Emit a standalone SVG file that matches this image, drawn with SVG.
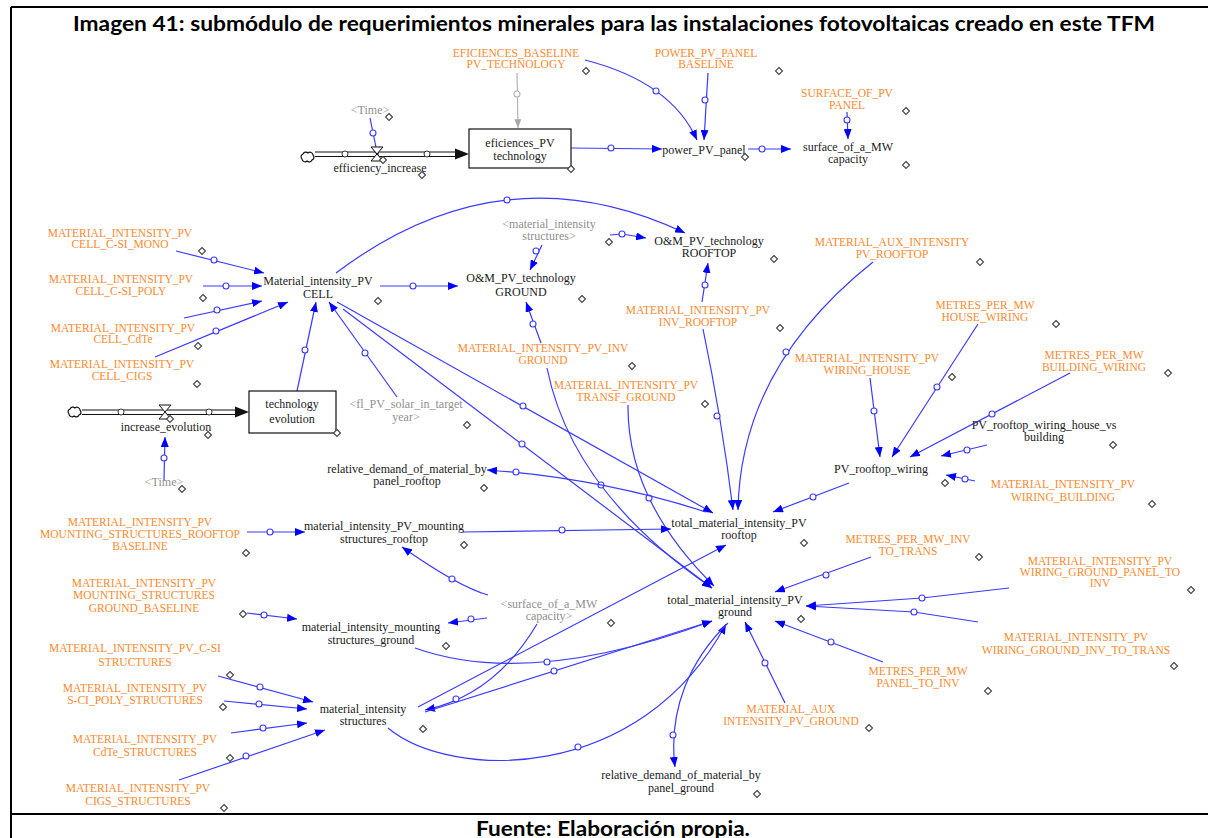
<svg xmlns="http://www.w3.org/2000/svg" xmlns:xlink="http://www.w3.org/1999/xlink" width="1208" height="838" viewBox="0 0 1208 838">
<style>
  .b { font-family: "Liberation Serif", serif; font-size: 12px; fill: #1a1a1a; text-anchor: middle; }
  .o { font-family: "Liberation Serif", serif; font-size: 11.5px; fill: #fb8a2e; text-anchor: middle; }
  .g { font-family: "Liberation Serif", serif; font-size: 12px; fill: #909090; text-anchor: middle; }
  .cap { font-family: Lato, "Liberation Sans", sans-serif; font-weight: bold; font-size: 20px; fill: #000; text-anchor: middle; }
  .lk { fill: none; stroke: #3a3aff; stroke-width: 1.2; }
  .lkg { fill: none; stroke: #b4b4b4; stroke-width: 1.2; }
  .h { fill: #fff; stroke: #3a3aff; stroke-width: 1.1; }
  .hg { fill: #fff; stroke: #b4b4b4; stroke-width: 1.1; }
  .hf { fill: #fff; stroke: #333; stroke-width: 1; }
  .d { fill: #fff; stroke: #444; stroke-width: 1.1; }
  .box { fill: #fff; stroke: #111; stroke-width: 1.2; }
  .pipe { fill: none; stroke: #111; stroke-width: 1.2; }
  .frame { stroke: #000; stroke-width: 2; fill: none; }
</style>
<defs>
  <marker id="ab" viewBox="0 0 10 8" refX="10" refY="4" markerWidth="10" markerHeight="8" markerUnits="userSpaceOnUse" orient="auto">
    <path d="M0,0 L10,4 L0,8 z" fill="#0000ff"/>
  </marker>
  <marker id="ag" viewBox="0 0 10 8" refX="10" refY="4" markerWidth="9" markerHeight="7" markerUnits="userSpaceOnUse" orient="auto">
    <path d="M0,0 L10,4 L0,8 z" fill="#a8a8a8"/>
  </marker>
  <path id="dm" class="d" d="M0,-3.5 L3.5,0 L0,3.5 L-3.5,0 Z"/>
  <path id="cloud" d="M-6,2 a3,3 0 0 1 1,-5 a3,3 0 0 1 5,-1 a3,3 0 0 1 5,2 a3,3 0 0 1 -1,5 a3,3 0 0 1 -5,1 a3,3 0 0 1 -5,-2 z" fill="#fff" stroke="#111" stroke-width="1.2"/>
</defs>

<rect width="1208" height="838" fill="#fff"/>

<!-- table frame -->
<g id="frame">
  <line class="frame" x1="11" y1="7" x2="1208" y2="7"/>
  <line class="frame" x1="11" y1="7" x2="11" y2="838"/>
  <line class="frame" x1="11" y1="814" x2="1208" y2="814"/>
  <text class="cap" x="614" y="31" textLength="1082" lengthAdjust="spacingAndGlyphs">Imagen  41: submódulo de requerimientos minerales para las instalaciones fotovoltaicas creado en este TFM</text>
  <text class="cap" x="613" y="836" textLength="274" lengthAdjust="spacingAndGlyphs">Fuente: Elaboración propia.</text>
</g>

<!-- connectors -->
<g id="links">
  <path class="lk" d="M370,118 L378,157" marker-end="url(#ab)"/><circle class="h" cx="373" cy="133" r="3"/>
  <path class="lkg" d="M517,73 L518,128" marker-end="url(#ag)"/><circle class="hg" cx="517" cy="94" r="3"/>
  <path class="lk" d="M585,60 Q671,82 697,140" marker-end="url(#ab)"/><circle class="h" cx="656" cy="91" r="3"/>
  <path class="lk" d="M708,73 L704,140" marker-end="url(#ab)"/><circle class="h" cx="705" cy="100" r="3"/>
  <path class="lk" d="M571,148 L662,149" marker-end="url(#ab)"/><circle class="h" cx="611" cy="148" r="3"/>
  <path class="lk" d="M748,149 L791,149" marker-end="url(#ab)"/><circle class="h" cx="762" cy="149" r="3"/>
  <path class="lk" d="M847,112 L848,139" marker-end="url(#ab)"/><circle class="h" cx="847" cy="120" r="3"/>

  <path class="lk" d="M176,251 L264,273" marker-end="url(#ab)"/><circle class="h" cx="214" cy="260" r="3"/>
  <path class="lk" d="M203,286 L262,286" marker-end="url(#ab)"/><circle class="h" cx="226" cy="286" r="3"/>
  <path class="lk" d="M184,318 L262,301" marker-end="url(#ab)"/><circle class="h" cx="217" cy="310" r="3"/>
  <path class="lk" d="M155,357 L288,302" marker-end="url(#ab)"/><circle class="h" cx="216" cy="331" r="3"/>
  <path class="lk" d="M297,391 L316,302" marker-end="url(#ab)"/><circle class="h" cx="305" cy="350" r="3"/>
  <path class="lk" d="M397,397 L329,302" marker-end="url(#ab)"/><circle class="h" cx="365" cy="353" r="3"/>
  <path class="lk" d="M380,286 L458,286" marker-end="url(#ab)"/><circle class="h" cx="413" cy="286" r="3"/>
  <path class="lk" d="M336,273 Q503,147 685,233" marker-end="url(#ab)"/><circle class="h" cx="507" cy="200" r="3"/>
  <path class="lk" d="M542,245 L530,270" marker-end="url(#ab)"/><circle class="h" cx="536" cy="251" r="3"/>
  <path class="lk" d="M610,235 L622,234 L646,238" marker-end="url(#ab)"/><circle class="h" cx="622" cy="234" r="3"/>
  <path class="lk" d="M541,343 L526,302" marker-end="url(#ab)"/><circle class="h" cx="533" cy="324" r="3"/>
  <path class="lk" d="M547,368 Q572,492 712,588" marker-end="url(#ab)"/><circle class="h" cx="601" cy="485" r="3"/>
  <path class="lk" d="M628,405 Q627,500 714,586" marker-end="url(#ab)"/><circle class="h" cx="649" cy="498" r="3"/>
  <path class="lk" d="M337,302 L713,513" marker-end="url(#ab)"/><circle class="h" cx="523" cy="406" r="3"/>
  <path class="lk" d="M343,309 L712,588" marker-end="url(#ab)"/><circle class="h" cx="522" cy="444" r="3"/>
  <path class="lk" d="M706,512 Q600,478 487,470" marker-end="url(#ab)"/><circle class="h" cx="516" cy="472" r="3"/>
  <path class="lk" d="M702,302 L708,263" marker-end="url(#ab)"/><circle class="h" cx="705" cy="285" r="3"/>
  <path class="lk" d="M703,329 Q722,420 733,510" marker-end="url(#ab)"/><circle class="h" cx="717" cy="416" r="3"/>
  <path class="lk" d="M873,262 C800,320 740,400 738,510" marker-end="url(#ab)"/><circle class="h" cx="786" cy="352" r="3"/>
  <path class="lk" d="M870,378 L880,457" marker-end="url(#ab)"/><circle class="h" cx="874" cy="411" r="3"/>
  <path class="lk" d="M978,324 L892,457" marker-end="url(#ab)"/><circle class="h" cx="937" cy="387" r="3"/>
  <path class="lk" d="M1070,373 L910,457" marker-end="url(#ab)"/><circle class="h" cx="992" cy="414" r="3"/>
  <path class="lk" d="M987,445 L941,456" marker-end="url(#ab)"/><circle class="h" cx="967" cy="450" r="3"/>
  <path class="lk" d="M975,481 L946,475" marker-end="url(#ab)"/><circle class="h" cx="965" cy="479" r="3"/>
  <path class="lk" d="M849,483 L773,512" marker-end="url(#ab)"/><circle class="h" cx="813" cy="497" r="3"/>

  <path class="lk" d="M247,532 L305,532" marker-end="url(#ab)"/><circle class="h" cx="270" cy="532" r="3"/>
  <path class="lk" d="M463,532 L671,529" marker-end="url(#ab)"/><circle class="h" cx="562" cy="530" r="3"/>
  <path class="lk" d="M488,595 Q459,587 402,547" marker-end="url(#ab)"/><circle class="h" cx="452" cy="579" r="3"/>
  <path class="lk" d="M487,618 L448,623" marker-end="url(#ab)"/><circle class="h" cx="471" cy="619" r="3"/>
  <path class="lk" d="M247,613 L297,619" marker-end="url(#ab)"/><circle class="h" cx="264" cy="615" r="3"/>
  <path class="lk" d="M415,648 Q530,689 712,621" marker-end="url(#ab)"/><circle class="h" cx="547" cy="662" r="3"/>
  <path class="lk" d="M537,624 Q495,695 425,710" marker-end="url(#ab)"/><circle class="h" cx="456" cy="699" r="3"/>
  <path class="lk" d="M418,707 L726,545" marker-end="url(#ab)"/>
  <path class="lk" d="M425,712 L712,621" marker-end="url(#ab)"/><circle class="h" cx="554" cy="671" r="3"/>
  <path class="lk" d="M388,728 C450,780 640,785 726,624" marker-end="url(#ab)"/><circle class="h" cx="578" cy="747" r="3"/>
  <path class="lk" d="M728,623 C690,660 668,710 675,767" marker-end="url(#ab)"/><circle class="h" cx="673" cy="735" r="3"/>
  <path class="lk" d="M871,557 L775,592" marker-end="url(#ab)"/><circle class="h" cx="826" cy="575" r="3"/>
  <path class="lk" d="M1009,588 L922,598 L806,606" marker-end="url(#ab)"/><circle class="h" cx="922" cy="598" r="3"/>
  <path class="lk" d="M978,622 L914,612 L806,606" marker-end="url(#ab)"/><circle class="h" cx="914" cy="612" r="3"/>
  <path class="lk" d="M883,662 L775,621" marker-end="url(#ab)"/><circle class="h" cx="831" cy="642" r="3"/>
  <path class="lk" d="M785,703 L745,622" marker-end="url(#ab)"/><circle class="h" cx="765" cy="663" r="3"/>
  <path class="lk" d="M164,480 L165,437" marker-end="url(#ab)"/><circle class="h" cx="164" cy="458" r="3"/>
</g>

<!-- stock: eficiences_PV technology, with inflow -->
<g id="flow-efficiency">
  <use href="#cloud" x="308" y="157"/>
  <line class="pipe" x1="315" y1="152" x2="458" y2="152"/>
  <line class="pipe" x1="315" y1="156.5" x2="458" y2="156.5"/>
  <path d="M455,148.5 L469,154 L455,159.5 z" fill="#111"/>
  <circle class="hf" cx="345" cy="154" r="3"/>
  <circle class="hf" cx="427" cy="154" r="3"/>
  <path d="M371,147 L383,147 L377,154 Z M371,161 L383,161 L377,154 Z" fill="#fff" stroke="#111" stroke-width="1"/>
  <text class="b" x="380" y="172">efficiency_increase</text>
  <use href="#dm" x="383" y="160"/>
  <use href="#dm" x="422" y="175"/>
</g>
<g id="eficiences-pv-technology">
  <rect class="box" x="469" y="129" width="102" height="39"/>
  <text class="b" x="520" y="147">eficiences_PV</text>
  <text class="b" x="520" y="160">technology</text>
  <use href="#dm" x="571" y="169"/>
</g>
<g id="time-1">
  <text class="g" x="370" y="114">&lt;Time&gt;</text>
  <use href="#dm" x="389" y="117"/>
</g>
<g id="eficiences-baseline">
  <text class="o" x="516" y="57">EFICIENCES_BASELINE</text>
  <text class="o" x="516" y="68">PV_TECHNOLOGY</text>
  <use href="#dm" x="586" y="71"/>
</g>
<g id="power-pv-panel-baseline">
  <text class="o" x="706" y="57">POWER_PV_PANEL</text>
  <text class="o" x="706" y="68">BASELINE</text>
  <use href="#dm" x="779" y="71"/>
</g>
<g id="power-pv-panel">
  <text class="b" x="704" y="154">power_PV_panel</text>
  <use href="#dm" x="745" y="157"/>
</g>
<g id="surface-of-pv-panel">
  <text class="o" x="847" y="97">SURFACE_OF_PV</text>
  <text class="o" x="847" y="109">PANEL</text>
  <use href="#dm" x="906" y="111"/>
</g>
<g id="surface-of-a-mw-capacity">
  <text class="b" x="848" y="151">surface_of_a_MW</text>
  <text class="b" x="848" y="163">capacity</text>
  <use href="#dm" x="906" y="165"/>
</g>

<!-- cell material intensity -->
<g id="mi-cell-csi-mono">
  <text class="o" x="120" y="237">MATERIAL_INTENSITY_PV</text>
  <text class="o" x="120" y="248">CELL_C-SI_MONO</text>
  <use href="#dm" x="202" y="251"/>
</g>
<g id="mi-cell-csi-poly">
  <text class="o" x="121" y="283">MATERIAL_INTENSITY_PV</text>
  <text class="o" x="121" y="295">CELL_C-SI_POLY</text>
  <use href="#dm" x="203" y="298"/>
</g>
<g id="mi-cell-cdte">
  <text class="o" x="123" y="332">MATERIAL_INTENSITY_PV</text>
  <text class="o" x="123" y="343">CELL_CdTe</text>
  <use href="#dm" x="198" y="346"/>
</g>
<g id="mi-cell-cigs">
  <text class="o" x="122" y="368">MATERIAL_INTENSITY_PV</text>
  <text class="o" x="122" y="380">CELL_CIGS</text>
  <use href="#dm" x="197" y="384"/>
</g>
<g id="material-intensity-pv-cell">
  <text class="b" x="318" y="285">Material_intensity_PV</text>
  <text class="b" x="318" y="298">CELL</text>
  <use href="#dm" x="378" y="301"/>
</g>

<!-- stock: technology evolution, with inflow -->
<g id="flow-evolution">
  <use href="#cloud" x="75" y="412"/>
  <line class="pipe" x1="82" y1="410" x2="238" y2="410"/>
  <line class="pipe" x1="82" y1="414.5" x2="238" y2="414.5"/>
  <path d="M235,406.5 L249,412 L235,417.5 z" fill="#111"/>
  <circle class="hf" cx="121" cy="412" r="3"/>
  <circle class="hf" cx="209" cy="412" r="3"/>
  <path d="M159,405 L171,405 L165,412 Z M159,419 L171,419 L165,412 Z" fill="#fff" stroke="#111" stroke-width="1"/>
  <text class="b" x="166" y="431">increase_evolution</text>
  <use href="#dm" x="170" y="419"/>
  <use href="#dm" x="208" y="435"/>
</g>
<g id="technology-evolution">
  <rect class="box" x="249" y="391" width="87" height="42"/>
  <text class="b" x="292" y="408">technology</text>
  <text class="b" x="292" y="423">evolution</text>
  <use href="#dm" x="337" y="433"/>
</g>
<g id="time-2">
  <text class="g" x="164" y="486">&lt;Time&gt;</text>
  <use href="#dm" x="182" y="489"/>
</g>
<g id="fl-pv-solar">
  <text class="g" x="406" y="408">&lt;fl_PV_solar_in_target</text>
  <text class="g" x="406" y="421">year&gt;</text>
  <use href="#dm" x="467" y="425"/>
</g>

<!-- O&M -->
<g id="mi-structures-shadow">
  <text class="g" x="549" y="228">&lt;material_intensity</text>
  <text class="g" x="549" y="240">structures&gt;</text>
  <use href="#dm" x="609" y="242"/>
</g>
<g id="om-rooftop">
  <text class="b" x="709" y="245">O&amp;M_PV_technology</text>
  <text class="b" x="709" y="257">ROOFTOP</text>
  <use href="#dm" x="774" y="259"/>
</g>
<g id="om-ground">
  <text class="b" x="521" y="282">O&amp;M_PV_technology</text>
  <text class="b" x="521" y="296">GROUND</text>
  <use href="#dm" x="582" y="299"/>
</g>
<g id="mi-inv-ground">
  <text class="o" x="543" y="352">MATERIAL_INTENSITY_PV_INV</text>
  <text class="o" x="543" y="364">GROUND</text>
  <use href="#dm" x="632" y="366"/>
</g>
<g id="mi-inv-rooftop">
  <text class="o" x="698" y="314">MATERIAL_INTENSITY_PV</text>
  <text class="o" x="698" y="326">INV_ROOFTOP</text>
  <use href="#dm" x="780" y="328"/>
</g>
<g id="mi-transf-ground">
  <text class="o" x="626" y="389">MATERIAL_INTENSITY_PV</text>
  <text class="o" x="626" y="401">TRANSF_GROUND</text>
  <use href="#dm" x="705" y="404"/>
</g>

<!-- rooftop wiring -->
<g id="aux-intensity-rooftop">
  <text class="o" x="892" y="246">MATERIAL_AUX_INTENSITY</text>
  <text class="o" x="892" y="258">PV_ROOFTOP</text>
  <use href="#dm" x="980" y="262"/>
</g>
<g id="metres-house-wiring">
  <text class="o" x="985" y="309">METRES_PER_MW</text>
  <text class="o" x="985" y="321">HOUSE_WIRING</text>
  <use href="#dm" x="1056" y="324"/>
</g>
<g id="mi-wiring-house">
  <text class="o" x="867" y="362">MATERIAL_INTENSITY_PV</text>
  <text class="o" x="867" y="374">WIRING_HOUSE</text>
  <use href="#dm" x="952" y="377"/>
</g>
<g id="metres-building-wiring">
  <text class="o" x="1094" y="359">METRES_PER_MW</text>
  <text class="o" x="1094" y="371">BUILDING_WIRING</text>
  <use href="#dm" x="1168" y="373"/>
</g>
<g id="house-vs-building">
  <text class="b" x="1044" y="429">PV_rooftop_wiring_house_vs</text>
  <text class="b" x="1044" y="441">building</text>
  <use href="#dm" x="1113" y="445"/>
</g>
<g id="pv-rooftop-wiring">
  <text class="b" x="881" y="473">PV_rooftop_wiring</text>
  <use href="#dm" x="945" y="483"/>
</g>
<g id="mi-wiring-building">
  <text class="o" x="1063" y="488">MATERIAL_INTENSITY_PV</text>
  <text class="o" x="1063" y="501">WIRING_BUILDING</text>
  <use href="#dm" x="1152" y="504"/>
</g>

<!-- totals and mounting structures -->
<g id="relative-demand-rooftop">
  <text class="b" x="407" y="473">relative_demand_of_material_by</text>
  <text class="b" x="407" y="485">panel_rooftop</text>
  <use href="#dm" x="484" y="488"/>
</g>
<g id="mi-mounting-rooftop-baseline">
  <text class="o" x="140" y="526">MATERIAL_INTENSITY_PV</text>
  <text class="o" x="140" y="538">MOUNTING_STRUCTURES_ROOFTOP</text>
  <text class="o" x="140" y="550">BASELINE</text>
  <use href="#dm" x="246" y="553"/>
</g>
<g id="mi-mounting-rooftop">
  <text class="b" x="384" y="530">material_intensity_PV_mounting</text>
  <text class="b" x="384" y="543">structures_rooftop</text>
  <use href="#dm" x="464" y="545"/>
</g>
<g id="mi-mounting-ground-baseline">
  <text class="o" x="144" y="587">MATERIAL_INTENSITY_PV</text>
  <text class="o" x="144" y="599">MOUNTING_STRUCTURES</text>
  <text class="o" x="144" y="612">GROUND_BASELINE</text>
  <use href="#dm" x="243" y="614"/>
</g>
<g id="mi-mounting-ground">
  <text class="b" x="371" y="631">material_intensity_mounting</text>
  <text class="b" x="371" y="644">structures_ground</text>
  <use href="#dm" x="446" y="646"/>
</g>
<g id="surface-shadow">
  <text class="g" x="549" y="608">&lt;surface_of_a_MW</text>
  <text class="g" x="549" y="620">capacity&gt;</text>
  <use href="#dm" x="611" y="623"/>
</g>
<g id="total-rooftop">
  <text class="b" x="739" y="527">total_material_intensity_PV</text>
  <text class="b" x="739" y="539">rooftop</text>
  <use href="#dm" x="804" y="543"/>
</g>
<g id="total-ground">
  <text class="b" x="735" y="604">total_material_intensity_PV</text>
  <text class="b" x="735" y="616">ground</text>
  <use href="#dm" x="801" y="619"/>
</g>

<!-- ground wiring and auxiliaries -->
<g id="metres-inv-to-trans">
  <text class="o" x="908" y="543">METRES_PER_MW_INV</text>
  <text class="o" x="908" y="555">TO_TRANS</text>
  <use href="#dm" x="979" y="557"/>
</g>
<g id="mi-wiring-panel-to-inv">
  <text class="o" x="1100" y="565">MATERIAL_INTENSITY_PV</text>
  <text class="o" x="1100" y="576">WIRING_GROUND_PANEL_TO</text>
  <text class="o" x="1100" y="587">INV</text>
  <use href="#dm" x="1191" y="590"/>
</g>
<g id="mi-wiring-inv-to-trans">
  <text class="o" x="1076" y="641">MATERIAL_INTENSITY_PV</text>
  <text class="o" x="1076" y="654">WIRING_GROUND_INV_TO_TRANS</text>
  <use href="#dm" x="1174" y="666"/>
</g>
<g id="metres-panel-to-inv">
  <text class="o" x="918" y="675">METRES_PER_MW</text>
  <text class="o" x="918" y="687">PANEL_TO_INV</text>
  <use href="#dm" x="988" y="691"/>
</g>
<g id="aux-intensity-ground">
  <text class="o" x="791" y="713">MATERIAL_AUX</text>
  <text class="o" x="791" y="725">INTENSITY_PV_GROUND</text>
  <use href="#dm" x="869" y="728"/>
</g>
<g id="relative-demand-ground">
  <text class="b" x="681" y="779">relative_demand_of_material_by</text>
  <text class="b" x="681" y="792">panel_ground</text>
  <use href="#dm" x="757" y="794"/>
</g>

<!-- structures -->
<g id="mi-csi-structures">
  <text class="o" x="135" y="652">MATERIAL_INTENSITY_PV_C-SI</text>
  <text class="o" x="135" y="666">STRUCTURES</text>
  <use href="#dm" x="230" y="675"/>
</g>
<g id="mi-sci-poly-structures">
  <text class="o" x="135" y="692">MATERIAL_INTENSITY_PV</text>
  <text class="o" x="135" y="704">S-CI_POLY_STRUCTURES</text>
  <use href="#dm" x="223" y="707"/>
</g>
<g id="mi-cdte-structures">
  <text class="o" x="145" y="743">MATERIAL_INTENSITY_PV</text>
  <text class="o" x="145" y="756">CdTe_STRUCTURES</text>
  <use href="#dm" x="230" y="758"/>
</g>
<g id="mi-cigs-structures">
  <text class="o" x="138" y="792">MATERIAL_INTENSITY_PV</text>
  <text class="o" x="138" y="805">CIGS_STRUCTURES</text>
  <use href="#dm" x="224" y="808"/>
</g>
<g id="material-intensity-structures">
  <text class="b" x="363" y="713">material_intensity</text>
  <text class="b" x="363" y="725">structures</text>
  <use href="#dm" x="423" y="729"/>
</g>
<g id="structures-links">
  <path class="lk" d="M218,676 L313,702" marker-end="url(#ab)"/><circle class="h" cx="260" cy="687" r="3"/>
  <path class="lk" d="M224,701 L307,709" marker-end="url(#ab)"/><circle class="h" cx="259" cy="704" r="3"/>
  <path class="lk" d="M231,733 L307,723" marker-end="url(#ab)"/><circle class="h" cx="263" cy="728" r="3"/>
  <path class="lk" d="M179,780 L325,730" marker-end="url(#ab)"/><circle class="h" cx="246" cy="756" r="3"/>
</g>
</svg>
